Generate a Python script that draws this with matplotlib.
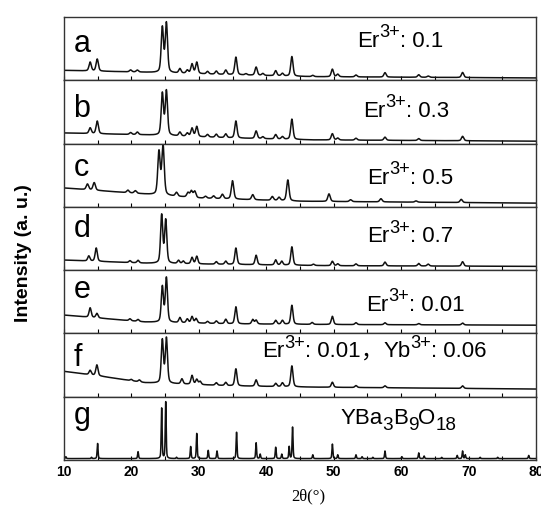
import numpy as np
import matplotlib
matplotlib.use("Agg")
import matplotlib.pyplot as plt
from matplotlib.ticker import MultipleLocator
from matplotlib.transforms import offset_copy

plt.rcParams['font.family'] = ['Liberation Sans', 'Noto Sans CJK SC', 'DejaVu Sans']

# ---- data (2theta in degrees, intensity in panel units) ----
panel_letters = ['a', 'b', 'c', 'd', 'e', 'f', 'g']
# labels as (text, kind) pieces: n = normal, sup = superscript, sub = subscript, cjk = CJK sign
label_a = [('Er', 'n'), ('3+', 'sup'), (': 0.1', 'n')]
label_b = [('Er', 'n'), ('3+', 'sup'), (': 0.3', 'n')]
label_c = [('Er', 'n'), ('3+', 'sup'), (': 0.5', 'n')]
label_d = [('Er', 'n'), ('3+', 'sup'), (': 0.7', 'n')]
label_e = [('Er', 'n'), ('3+', 'sup'), (': 0.01', 'n')]
label_f = [('Er', 'n'), ('3+', 'sup'), (': 0.01', 'n'), ('，', 'cjk'),
           ('Yb', 'n'), ('3+', 'sup'), (': 0.06', 'n')]
label_g = [('YBa', 'n'), ('3', 'sub'), ('B', 'n'), ('9', 'sub'), ('O', 'n'), ('18', 'sub')]

# background level: (2theta, level)
bg_a = [(10, 0.16), (22, 0.13), (35, 0.09), (47, 0.06), (80, 0.04)]
bg_b = [(10, 0.17), (22, 0.14), (35, 0.09), (47, 0.06), (80, 0.04)]
bg_c = [(10, 0.30), (20, 0.22), (30, 0.14), (45, 0.09), (80, 0.06)]
bg_d = [(10, 0.16), (22, 0.11), (35, 0.09), (50, 0.07), (80, 0.06)]
bg_e = [(10, 0.29), (22, 0.18), (35, 0.15), (50, 0.14), (80, 0.13)]
bg_f = [(10, 0.40), (15, 0.33), (22, 0.22), (35, 0.17), (47, 0.15), (80, 0.12)]
bg_g = [(10, 0.02), (80, 0.02)]

# peaks: (2theta, height above background)
peaks_a = [(13.9, 0.14), (14.95, 0.19), (19.9, 0.03), (20.9, 0.03), (24.6, 0.71), (25.2, 0.78),
           (27.2, 0.07), (28.3, 0.05), (29.0, 0.15), (29.7, 0.18), (31.3, 0.04), (32.6, 0.05),
           (34.0, 0.07), (35.5, 0.28), (37.0, 0.02), (38.5, 0.13), (39.5, 0.03), (41.4, 0.08),
           (42.4, 0.04), (43.8, 0.31), (46.9, 0.02), (49.8, 0.12), (50.6, 0.04), (53.3, 0.03),
           (57.6, 0.07), (62.6, 0.04), (64.0, 0.02), (69.1, 0.08)]
peaks_b = [(13.9, 0.09), (14.95, 0.20), (19.9, 0.03), (20.9, 0.04), (24.6, 0.66), (25.2, 0.70),
           (27.2, 0.06), (28.3, 0.05), (29.0, 0.13), (29.7, 0.16), (31.3, 0.04), (32.6, 0.05),
           (34.0, 0.06), (35.5, 0.27), (38.5, 0.12), (39.5, 0.03), (41.4, 0.07), (42.4, 0.04),
           (43.8, 0.32), (49.8, 0.10), (50.6, 0.03), (53.3, 0.03), (57.6, 0.05), (62.6, 0.03),
           (69.1, 0.07)]
peaks_c = [(13.5, 0.09), (14.5, 0.12), (19.5, 0.04), (20.6, 0.04), (24.1, 0.68), (24.7, 0.79),
           (26.7, 0.06), (28.4, 0.07), (28.9, 0.10), (29.4, 0.10), (31.0, 0.03), (32.2, 0.04),
           (33.5, 0.07), (35.0, 0.29), (38.0, 0.08), (40.9, 0.06), (41.9, 0.05), (43.2, 0.33),
           (49.3, 0.12), (52.5, 0.03), (57.0, 0.05), (62.2, 0.02), (68.9, 0.05)]
peaks_d = [(13.7, 0.08), (14.8, 0.21), (19.8, 0.03), (21.0, 0.04), (24.5, 0.76), (25.1, 0.68),
           (27.0, 0.05), (27.7, 0.04), (29.0, 0.10), (29.7, 0.12), (32.6, 0.04), (34.0, 0.05),
           (35.5, 0.26), (38.5, 0.15), (41.4, 0.08), (42.3, 0.06), (43.8, 0.29), (47.0, 0.02),
           (49.8, 0.07), (50.6, 0.03), (53.3, 0.03), (57.6, 0.06), (62.6, 0.04), (64.0, 0.03),
           (69.1, 0.07)]
peaks_e = [(13.9, 0.15), (14.9, 0.07), (19.8, 0.03), (21.0, 0.03), (24.6, 0.56), (25.2, 0.70),
           (27.2, 0.08), (28.3, 0.06), (29.0, 0.10), (29.6, 0.07), (31.3, 0.03), (32.6, 0.04),
           (34.0, 0.07), (35.5, 0.27), (38.0, 0.07), (38.5, 0.06), (41.4, 0.06), (42.4, 0.06),
           (43.8, 0.30), (46.8, 0.03), (49.8, 0.13), (53.3, 0.03), (57.6, 0.03), (62.6, 0.02),
           (69.1, 0.03)]
peaks_f = [(13.9, 0.07), (14.9, 0.17), (20.0, 0.02), (21.2, 0.03), (24.6, 0.68), (25.2, 0.71),
           (27.5, 0.08), (29.0, 0.14), (29.7, 0.08), (30.2, 0.05), (32.6, 0.04), (34.0, 0.05),
           (35.5, 0.27), (38.5, 0.10), (41.4, 0.05), (42.4, 0.06), (43.8, 0.33), (49.8, 0.08),
           (53.3, 0.03), (57.6, 0.03), (69.1, 0.04)]
peaks_g = [(10.3, 0.03), (14.1, 0.02), (15.0, 0.24), (21.0, 0.11), (24.5, 0.80), (25.1, 0.90),
           (26.7, 0.02), (28.8, 0.19), (29.7, 0.40), (31.4, 0.13), (32.7, 0.12), (35.6, 0.42),
           (38.5, 0.25), (39.1, 0.07), (41.4, 0.18), (42.3, 0.07), (43.4, 0.19), (43.9, 0.50),
           (46.9, 0.06), (49.8, 0.23), (50.6, 0.06), (53.3, 0.06), (54.2, 0.03), (55.8, 0.02),
           (57.6, 0.12), (60.1, 0.03), (62.6, 0.09), (63.4, 0.04), (66.0, 0.02), (68.3, 0.05),
           (69.1, 0.12), (69.5, 0.06), (71.7, 0.02), (74.3, 0.02), (78.9, 0.05)]

backgrounds = [bg_a, bg_b, bg_c, bg_d, bg_e, bg_f, bg_g]
peak_lists = [peaks_a, peaks_b, peaks_c, peaks_d, peaks_e, peaks_f, peaks_g]
labels = [label_a, label_b, label_c, label_d, label_e, label_f, label_g]
widths = [0.40, 0.40, 0.42, 0.38, 0.38, 0.38, 0.16]   # FWHM of peaks in each panel

# text placement (axes fraction)
letter_y = [0.45, 0.42, 0.49, 0.53, 0.56, 0.49, 0.57]
label_xy = [(0.62, 0.53), (0.633, 0.42), (0.642, 0.37), (0.642, 0.44),
            (0.64, 0.36), (0.42, 0.62), (0.585, 0.57)]


# pseudo-Voigt peak shape
def peak(x, pos, h, fwhm):
    g = np.exp(-4 * np.log(2) * (x - pos) ** 2 / fwhm ** 2)
    l = 1 / (1 + 4 * (x - pos) ** 2 / fwhm ** 2)
    return h * (0.6 * g + 0.4 * l)


def pattern(x, bg, peaks, fwhm):
    bx = [p[0] for p in bg]
    by = [p[1] for p in bg]
    y = np.interp(x, bx, by)
    for pos, h in peaks:
        y = y + peak(x, pos, h, fwhm)
    return y


# write a label piece by piece so super/subscripts stay nearly full size
def piece_label(ax, x, y, pieces, renderer, size=16):
    dx = 0.0
    for txt, kind in pieces:
        fs = size
        dy = 0
        fam = ['Liberation Sans', 'Noto Sans CJK SC']
        if kind == 'sup':
            fs, dy = size * 0.82, 7
        elif kind == 'sub':
            fs, dy = size * 0.85, -4.5
        elif kind == 'cjk':
            fam = ['Noto Sans CJK SC']
        tr = offset_copy(ax.transAxes, fig=ax.figure, x=dx, y=dy, units='points')
        t = ax.text(x, y, txt, transform=tr, fontsize=fs, family=fam,
                    va='baseline', ha='left')
        w = t.get_window_extent(renderer).width
        dx += w * 72.0 / ax.figure.dpi


two_theta = np.linspace(10, 80, 4000)

fig, axes = plt.subplots(7, 1, figsize=(5.41, 5.07), dpi=100, sharex=True)
fig.subplots_adjust(left=0.118, right=0.991, top=0.966, bottom=0.093, hspace=0)
renderer = fig.canvas.get_renderer()

for i, ax in enumerate(axes):
    y = pattern(two_theta, backgrounds[i], peak_lists[i], widths[i])
    ax.plot(two_theta, y, color='#111111', lw=1.1)
    ax.set_xlim(10, 80)
    ax.set_ylim(0, 1)
    ax.set_yticks([])
    ax.xaxis.set_major_locator(MultipleLocator(10))
    ax.xaxis.set_minor_locator(MultipleLocator(5))
    ax.tick_params(axis='x', which='both', direction='in', length=3, width=0.8,
                   labelsize=10)
    for s in ax.spines.values():
        s.set_linewidth(1.0)
        s.set_color('#333333')
    ax.text(0.02, letter_y[i], panel_letters[i], transform=ax.transAxes,
            fontsize=22, va='baseline', ha='left')
    piece_label(ax, label_xy[i][0], label_xy[i][1], labels[i], renderer)

for lab in axes[-1].get_xticklabels():
    lab.set_fontweight('bold')
axes[-1].tick_params(axis='x', pad=4)

fig.text(0.57, 0.014, '2θ(°)', family='Liberation Serif', fontsize=12, ha='center')
fig.text(0.043, 0.50, 'Intensity (a. u.)', rotation=90, fontsize=14, fontweight='bold',
         ha='center', va='center')

fig.savefig('out.png', dpi=100)
